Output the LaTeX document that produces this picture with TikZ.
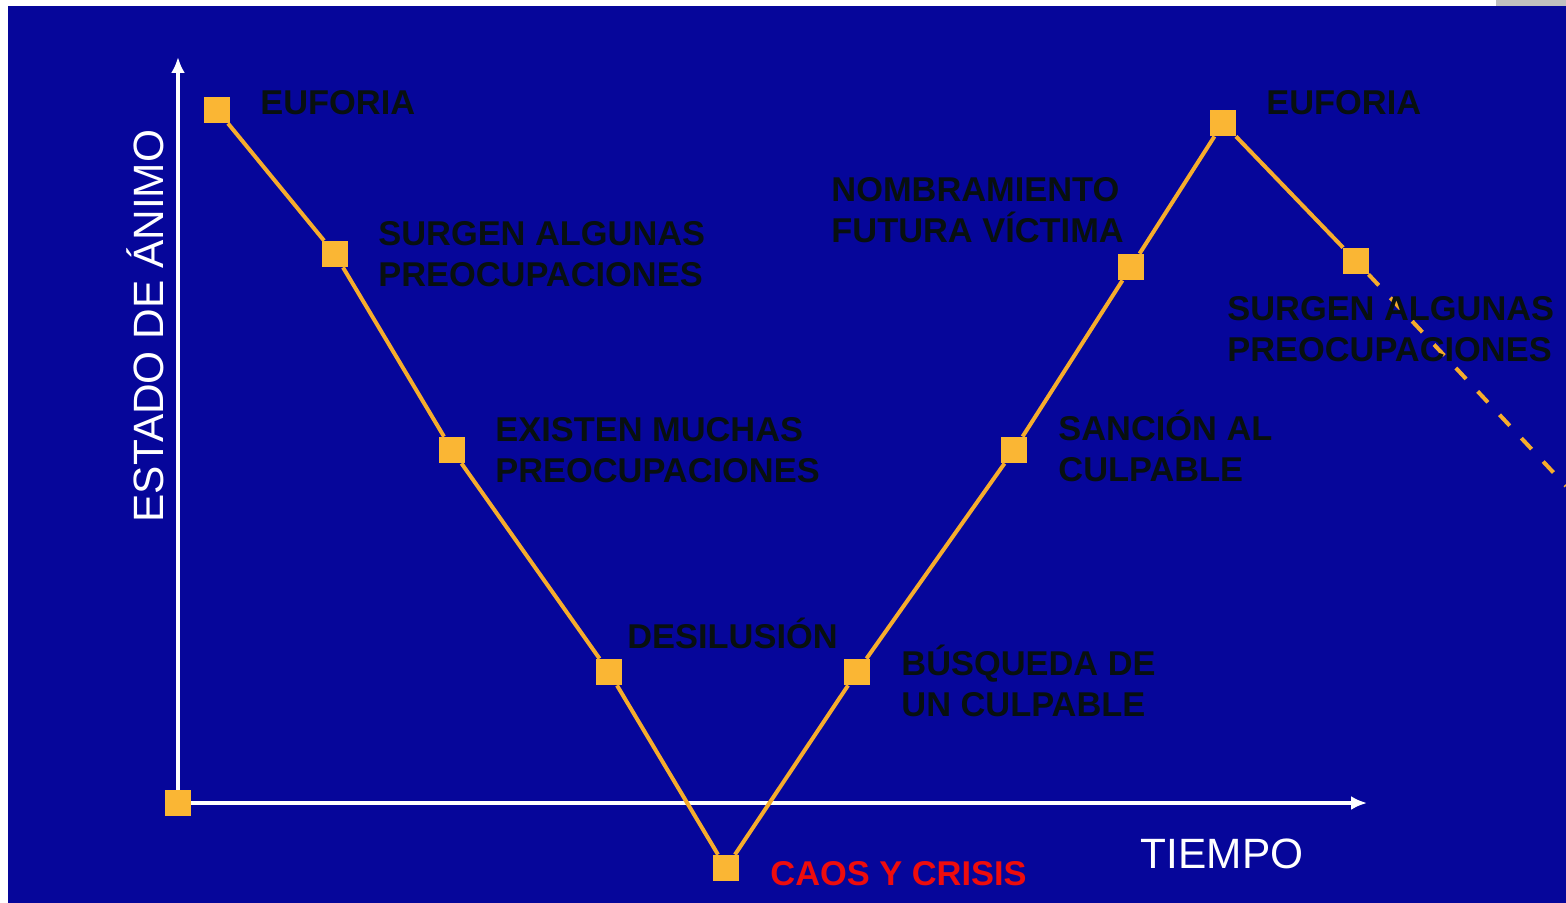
\documentclass[tikz,border=0pt]{standalone}
\usepackage{fontspec}
\setmainfont{Liberation Sans}
\usetikzlibrary{arrows.meta}
\definecolor{bg}{RGB}{6,6,154}
\definecolor{sq}{RGB}{250,182,52}
\definecolor{ln}{RGB}{246,172,44}
\definecolor{lab}{RGB}{8,16,16}
\definecolor{crisis}{RGB}{238,12,12}
\definecolor{patch}{RGB}{192,192,192}
\begin{document}
\begin{tikzpicture}[x=0.5pt,y=-0.5pt,
  pnt/.style={rectangle, fill=sq, draw=none, minimum size=13pt, inner sep=0pt},
  curve/.style={draw=ln, line width=2pt},
  dashcurve/.style={draw=ln, line width=2pt, dash pattern=on 7.5pt off 8.5pt},
  axis/.style={draw=white, line width=1.8pt, -{Latex[length=8pt,width=7pt]}},
  lbl/.style={anchor=base west, inner sep=0pt, align=left, text=lab,
    font=\bfseries\fontsize{17.2}{20.5}\selectfont},
  axlbl/.style={anchor=base, inner sep=0pt, text=white,
    font=\fontsize{21.2}{24}\selectfont}]
\useasboundingbox (0,0) rectangle (1566,903);
\fill[white] (0,0) rectangle (1566,903);
\fill[bg] (8,6) rectangle (1566,903);
\fill[patch] (1496,0) rectangle (1566,6);

% points
\node[pnt] (o) at (178,803) {};
\node[pnt] (p1) at (217,110) {};
\node[pnt] (p2) at (335,254) {};
\node[pnt] (p3) at (452,450) {};
\node[pnt] (p4) at (609,672) {};
\node[pnt] (p5) at (726,868) {};
\node[pnt] (p6) at (857,672) {};
\node[pnt] (p7) at (1014,450) {};
\node[pnt] (p8) at (1131,267) {};
\node[pnt] (p9) at (1223,123) {};
\node[pnt] (p10) at (1356,261) {};
\coordinate (ytip) at (178,57);
\coordinate (xtip) at (1367,803);
\coordinate (dend) at (1566,486);

% axes
\draw[axis] (o) -- (ytip);
\draw[axis] (o) -- (xtip);

% curve
\draw[curve] (p1) -- (p2) -- (p3) -- (p4) -- (p5) -- (p6) -- (p7) -- (p8) -- (p9) -- (p10);
\draw[dashcurve] (p10) -- (dend);

% labels (multi-line: base = last line's baseline)
\node[lbl] (l1) at (260,115) {EUFORIA};
\node[lbl] (l2) at (378,286) {SURGEN ALGUNAS\\PREOCUPACIONES};
\node[lbl] (l3) at (495,482) {EXISTEN MUCHAS\\PREOCUPACIONES};
\node[lbl] (l4) at (627,648) {DESILUSIÓN};
\node[lbl, text=crisis] (l5) at (770,885) {CAOS Y CRISIS};
\node[lbl] (l6) at (901,716) {BÚSQUEDA DE\\UN CULPABLE};
\node[lbl] (l7) at (1058,481) {SANCIÓN AL\\CULPABLE};
\node[lbl] (l8) at (831,243) {NOMBRAMIENTO\\FUTURA VÍCTIMA};
\node[lbl] (l9) at (1266,115) {EUFORIA};
\node[lbl] (l10) at (1227,361) {SURGEN ALGUNAS\\PREOCUPACIONES};

% axis labels
\node[axlbl, rotate=90] (ya) at (163,326) {ESTADO DE ÁNIMO};
\node[axlbl] (xa) at (1222,868) {TIEMPO};
\end{tikzpicture}
\end{document}
